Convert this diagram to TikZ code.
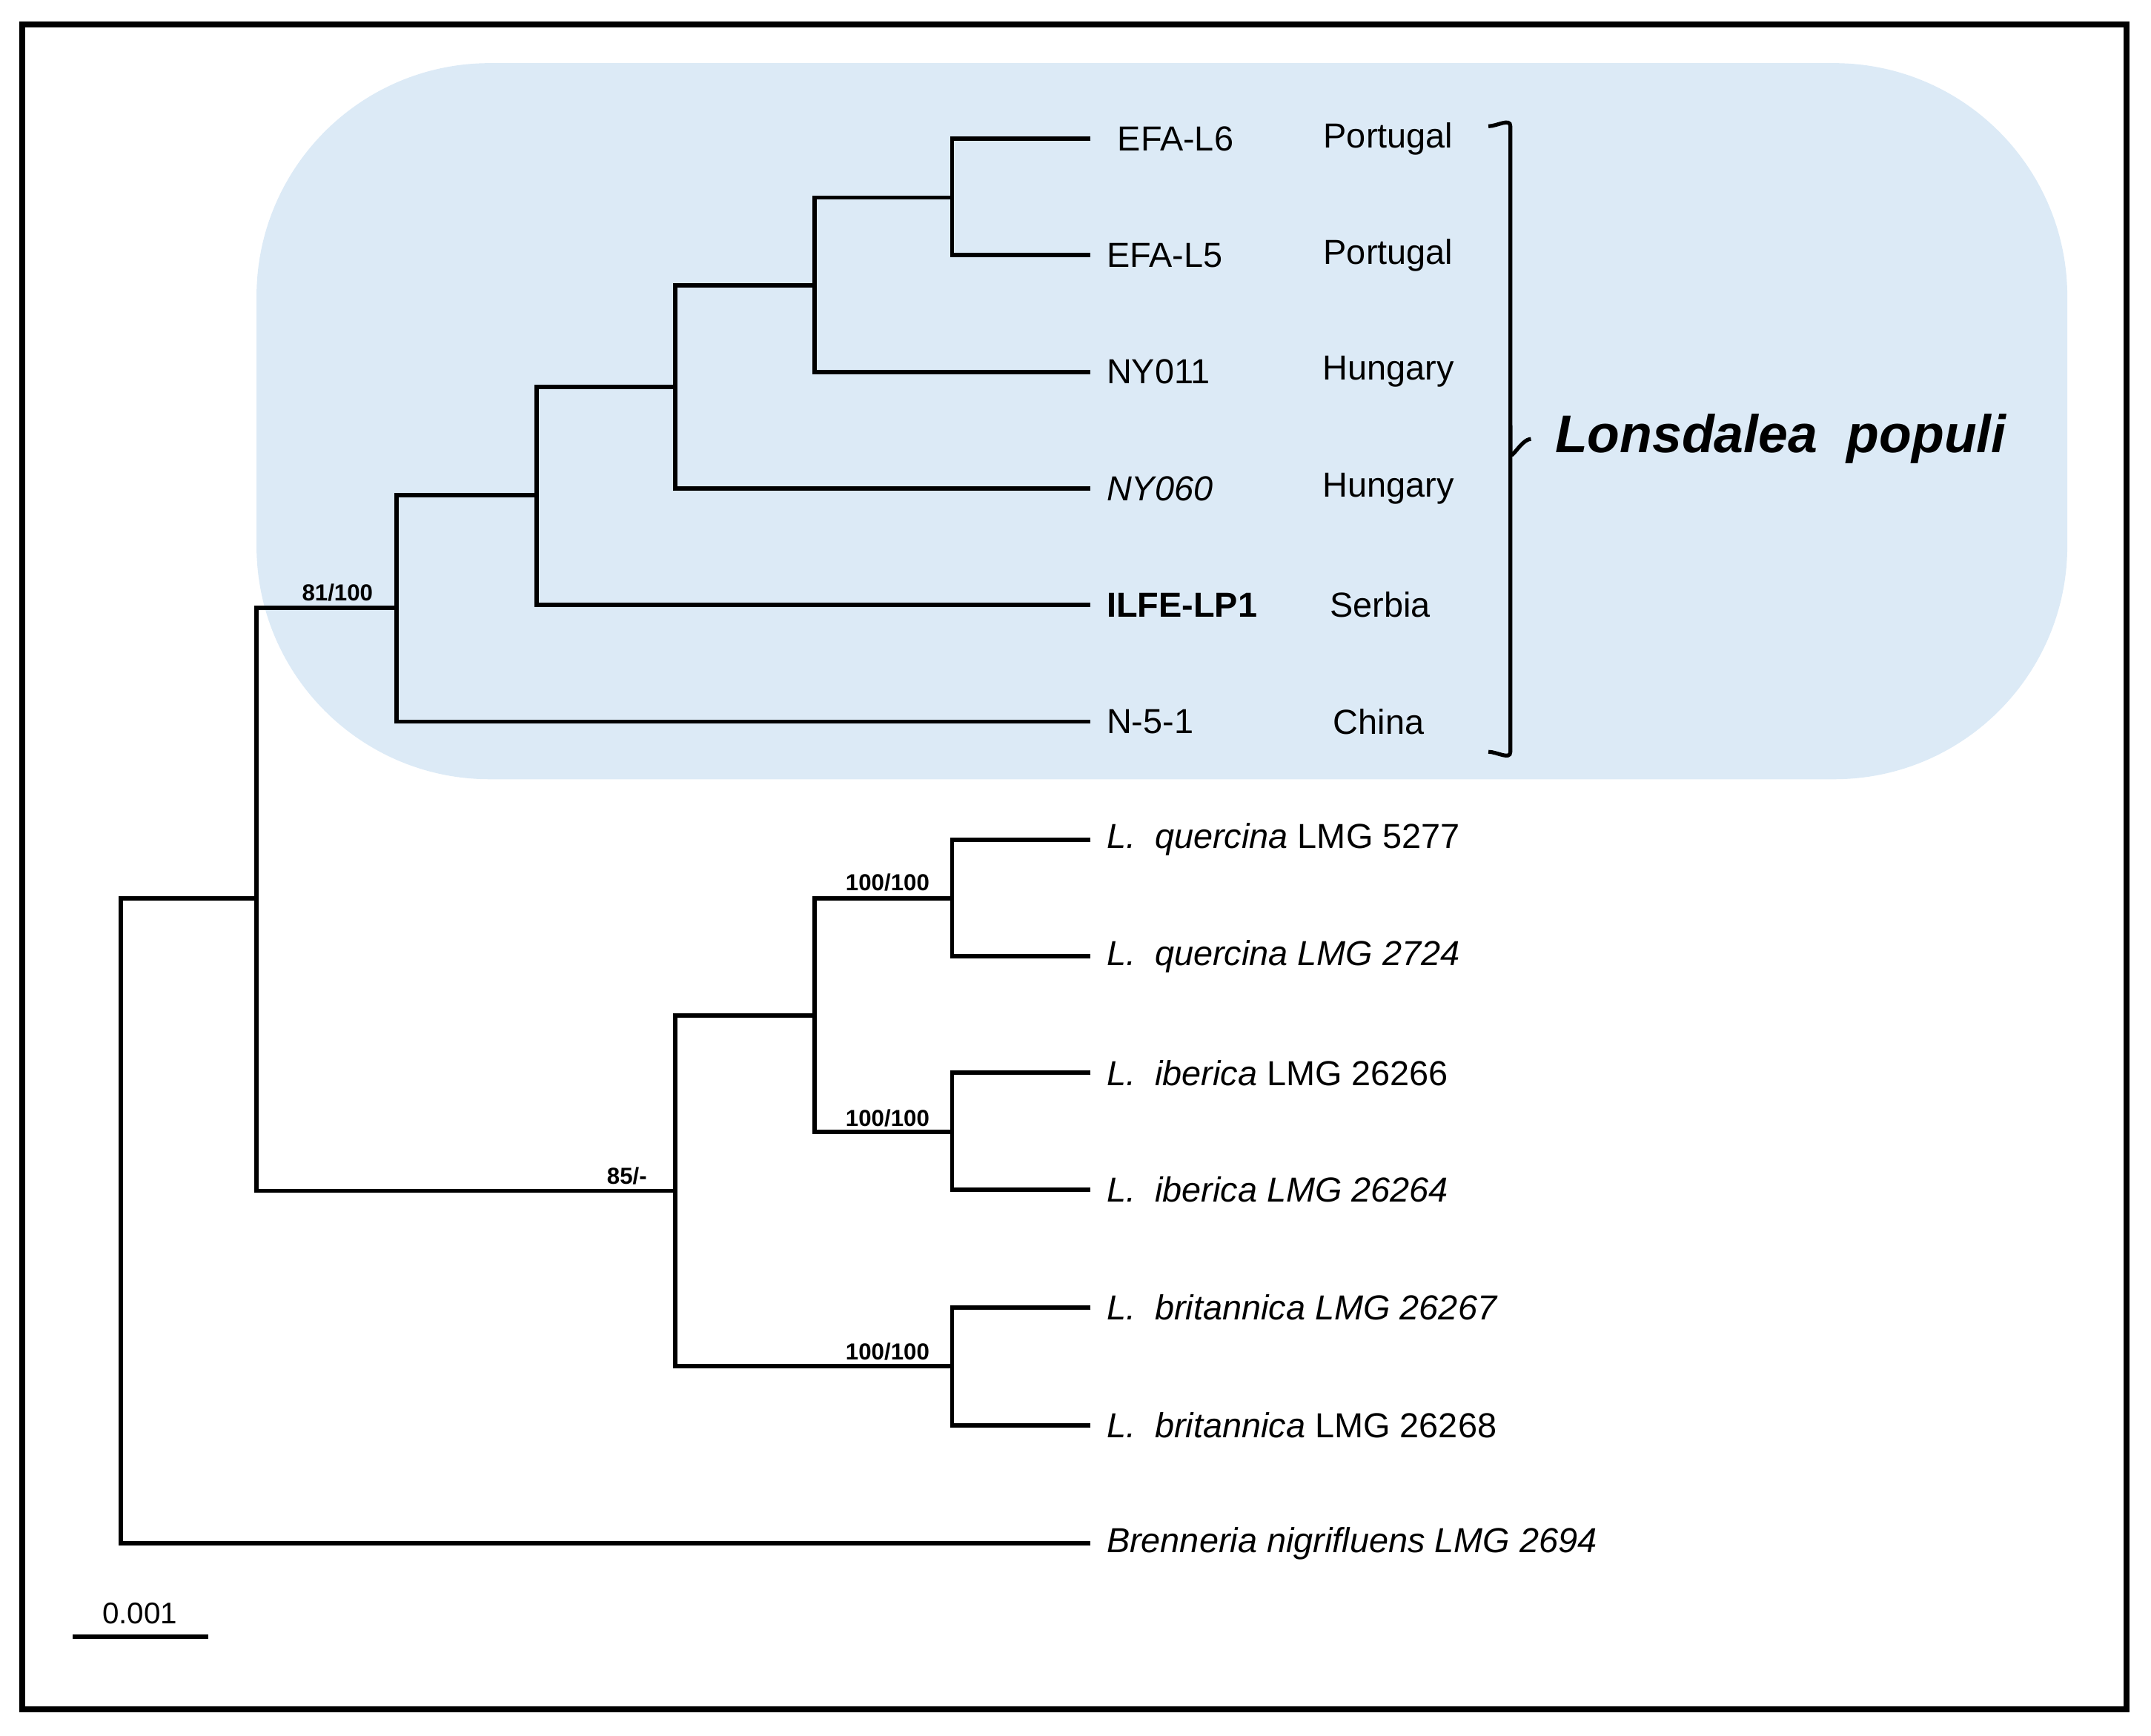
\documentclass[tikz,border=0pt]{standalone}
\usepackage{fontspec}
\setmainfont{Liberation Sans}
\begin{document}
\begin{tikzpicture}[x=0.01cm,y=-0.01cm,
  br/.style={line width=0.9pt},
  tip/.style={anchor=west,font=\fontsize{7.2}{8}\selectfont,inner sep=0pt},
  cty/.style={font=\fontsize{7.2}{8}\selectfont,inner sep=0pt},
  sup/.style={font=\bfseries\fontsize{4.8}{6}\selectfont,inner sep=0pt,anchor=south}]
\useasboundingbox (0,0) rectangle (1568,1265);
\draw[line width=1.2pt] (16,18) rectangle (1550,1246);
\fill[fill={rgb,255:red,220;green,234;blue,246},rounded corners=1.7cm] (187,46) rectangle (1507,568);
% leaves
\foreach \n/\y in {a/101,b/186,c/271,d/356,e/441,f/526,g/612,h/697,i/782,j/867,k/953,l/1039,m/1125}
  \coordinate (t\n) at (795,\y);
% internal nodes
\coordinate (n1) at (694,144);
\coordinate (n2) at (594,208);
\coordinate (n3) at (492,282);
\coordinate (n4) at (391,361);
\coordinate (n5) at (289,443);
\coordinate (q) at (694,655);
\coordinate (iv) at (694,825);
\coordinate (qi) at (594,740);
\coordinate (bb) at (694,996);
\coordinate (n85) at (492,868);
\coordinate (n6) at (187,655);
\coordinate (root) at (88,1125);
\draw[br] (ta) -| (n1) |- (tb);
\draw[br] (n1) -| (n2) |- (tc);
\draw[br] (n2) -| (n3) |- (td);
\draw[br] (n3) -| (n4) |- (te);
\draw[br] (n4) -| (n5) |- (tf);
\draw[br] (tg) -| (q) |- (th);
\draw[br] (ti) -| (iv) |- (tj);
\draw[br] (q) -| (qi) |- (iv);
\draw[br] (tk) -| (bb) |- (tl);
\draw[br] (qi) -| (n85) |- (bb);
\draw[br] (n5) -| (n6) |- (n85);
\draw[br] (n6) -| (root) -- (tm);
% support
\node[sup] (s1) at (246,439) {81/100};
\node[sup] (s2) at (647,650) {100/100};
\node[sup] (s3) at (647,822) {100/100};
\node[sup] (s4) at (647,992) {100/100};
\node[sup] (s5) at (457,864) {85/-};
% tip labels
\node[tip] (la) at (814,101) {EFA-L6};
\node[tip] (lb) at (806,186) {EFA-L5};
\node[tip] (lc) at (806,271) {NY011};
\node[tip] (ld) at (806,356) {\itshape NY060};
\node[tip] (le) at (806,441) {\bfseries ILFE-LP1};
\node[tip] (lf) at (806,526) {N-5-1};
\node[tip] (lg) at (806,612) {\itshape L.\ \ quercina\upshape\ LMG 5277};
\node[tip] (lh) at (806,697) {\itshape L.\ \ quercina LMG 2724};
\node[tip] (li) at (806,782) {\itshape L.\ \ iberica\upshape\ LMG 26266};
\node[tip] (lj) at (806,867) {\itshape L.\ \ iberica LMG 26264};
\node[tip] (lk) at (806,953) {\itshape L.\ \ britannica LMG 26267};
\node[tip] (ll) at (806,1039) {\itshape L.\ \ britannica\upshape\ LMG 26268};
\node[tip] (lm) at (806,1125) {\itshape Brenneria nigrifluens LMG 2694};
% countries
\node[cty] (ca) at (1012,101) {Portugal};
\node[cty] (cb) at (1012,186) {Portugal};
\node[cty] (cc) at (1012,271) {Hungary};
\node[cty] (cd) at (1012,356) {Hungary};
\node[cty] (ce) at (1006,441) {Serbia};
\node[cty] (cf) at (1005,526) {China};
% bracket
\coordinate (bt) at (1101,92);
\coordinate (bm) at (1101,320);
\coordinate (bbt) at (1101,548);
\draw[line width=0.8pt] (1085,92) to[out=0,in=90] (bt) -- ([yshift=-0.1cm]bm) to[out=-90,in=180] (1116,320);
\draw[line width=0.8pt] (bm) ++(0,0.1cm) -- (bbt) to[out=-90,in=0] (1085,548);
\node[font=\bfseries\itshape\fontsize{11}{13}\selectfont] (lp) at (1298,320) {Lonsdalea\ \ populi};
% scale
\coordinate (sa) at (53,1193);
\coordinate (sb) at (152,1193);
\draw[line width=0.8pt] (sa) -- (sb);
\node[font=\fontsize{6.2}{7}\selectfont,anchor=south,inner sep=1pt] (sl) at (102,1188) {0.001};
\end{tikzpicture}
\end{document}
